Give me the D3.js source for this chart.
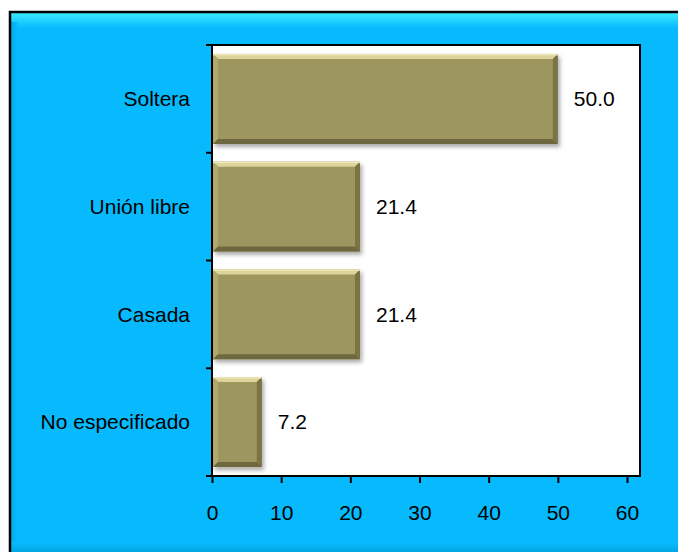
<!DOCTYPE html>
<html><head><meta charset="utf-8">
<script src="https://cdn.jsdelivr.net/npm/d3@7/dist/d3.min.js"></script>
<style>html,body{margin:0;padding:0;background:#fff;}svg{display:block;}</style>
</head><body>
<script>
const categories = ["Soltera", "Unión libre", "Casada", "No especificado"];
const values = [50.0, 21.4, 21.4, 7.2];
const labels = ["50.0", "21.4", "21.4", "7.2"];
const xTicks = [0, 10, 20, 30, 40, 50, 60];

const W = 678, H = 552;
const FS = 21;
const svg = d3.select("body").append("svg").attr("width", W).attr("height", H)
  .style("font-family", "'Liberation Sans', Arial, sans-serif");
const defs = svg.append("defs");

// outer frame gradients
const gTop = defs.append("linearGradient").attr("id","gTop").attr("x1",0).attr("y1",0).attr("x2",0).attr("y2",1);
gTop.append("stop").attr("offset","0%").attr("stop-color","#3EEEFF");
gTop.append("stop").attr("offset","100%").attr("stop-color","#06BAFD");
const gBot = defs.append("linearGradient").attr("id","gBot").attr("x1",0).attr("y1",0).attr("x2",0).attr("y2",1);
gBot.append("stop").attr("offset","0%").attr("stop-color","#06BAFD");
gBot.append("stop").attr("offset","100%").attr("stop-color","#02A6E2");
const gLeft = defs.append("linearGradient").attr("id","gLeft").attr("x1",0).attr("y1",0).attr("x2",1).attr("y2",0);
gLeft.append("stop").attr("offset","0%").attr("stop-color","#03A8E6");
gLeft.append("stop").attr("offset","100%").attr("stop-color","#06BAFD");

const shadow = defs.append("filter").attr("id","sh").attr("x","-10%").attr("y","-10%").attr("width","130%").attr("height","140%");
shadow.append("feDropShadow").attr("dx",2).attr("dy",3).attr("stdDeviation",2).attr("flood-color","#000").attr("flood-opacity",0.35);

// outer frame
const fx = 10, fy = 12;
svg.append("rect").attr("x", fx).attr("y", fy).attr("width", W - fx + 5).attr("height", H - fy + 5).attr("fill", "#06BAFD");
svg.append("rect").attr("x", fx).attr("y", fy).attr("width", W - fx + 5).attr("height", 16).attr("fill", "url(#gTop)");
svg.append("rect").attr("x", fx).attr("y", H - 9).attr("width", W - fx + 5).attr("height", 9).attr("fill", "url(#gBot)");
svg.append("rect").attr("x", fx).attr("y", fy + 10).attr("width", 7).attr("height", H - fy - 20).attr("fill", "url(#gLeft)");
svg.append("rect").attr("x", fx).attr("y", fy).attr("width", W - fx + 5).attr("height", H - fy + 5)
  .attr("fill", "none").attr("stroke", "#000").attr("stroke-width", 2.5);

// plot area
const pL = 212, pR = 640, pT = 45, pB = 476;
svg.append("rect").attr("x", pL).attr("y", pT).attr("width", pR - pL).attr("height", pB - pT)
  .attr("fill", "#fff").attr("stroke", "#000").attr("stroke-width", 2);

const x = d3.scaleLinear().domain([0, 60]).range([pL, 627]);
const y = d3.scaleBand().domain(categories).range([pT, pB]).paddingInner(0.165).paddingOuter(0.083);
const yb = d3.scaleBand().domain(categories).range([pT, pB]);

// bars with bevel
const bevel = 5;
const bars = svg.append("g").selectAll("g").data(categories).join("g");
bars.each(function(c, i) {
  const g = d3.select(this);
  const x0 = x(0) + 1, x1 = x(values[i]), y0 = y(c), y1 = y(c) + y.bandwidth();
  g.append("rect").attr("x", x0).attr("y", y0).attr("width", x1 - x0).attr("height", y1 - y0)
    .attr("fill", "#9E965E").attr("filter", "url(#sh)");
  const b = bevel;
  const poly = (pts, col) => g.append("polygon").attr("points", pts.map(p => p.join(",")).join(" ")).attr("fill", col);
  poly([[x0,y0],[x1,y0],[x1-b,y0+b],[x0+b,y0+b]], "#DCD49A");
  poly([[x0,y0],[x0+b,y0+b],[x0+b,y1-b],[x0,y1]], "#B0A86E");
  poly([[x1,y0],[x1,y1],[x1-b,y1-b],[x1-b,y0+b]], "#7A7344");
  poly([[x0,y1],[x1,y1],[x1-b,y1-b],[x0+b,y1-b]], "#6E683E");
  g.append("rect").attr("x", x0).attr("y", y0).attr("width", x1 - x0).attr("height", 1.5).attr("fill", "#EDE6B8");
});

// value labels
svg.append("g").selectAll("text").data(categories).join("text")
  .attr("x", (c, i) => x(values[i]) + 16)
  .attr("y", c => y(c) + y.bandwidth() / 2)
  .attr("dy", "0.35em").attr("font-size", FS).attr("fill", "#000")
  .text((c, i) => labels[i]);

// y axis
const yAxis = svg.append("g").attr("transform", `translate(${pL},0)`);
yAxis.selectAll("line.tk").data(d3.range(categories.length + 1)).join("line")
  .attr("x1", -6).attr("x2", 0)
  .attr("y1", i => pT + i * yb.step()).attr("y2", i => pT + i * yb.step())
  .attr("stroke", "#000").attr("stroke-width", 2);
yAxis.selectAll("text").data(categories).join("text")
  .attr("x", -22).attr("y", c => yb(c) + yb.bandwidth() / 2).attr("dy", "0.35em")
  .attr("text-anchor", "end").attr("font-size", FS).text(c => c);

// x axis
const xAxis = svg.append("g").attr("transform", `translate(0,${pB})`)
  .call(d3.axisBottom(x).tickValues(xTicks).tickSize(7).tickPadding(22).tickFormat(d3.format("d")));
xAxis.select(".domain").remove();
xAxis.selectAll("line").attr("stroke", "#000").attr("stroke-width", 2);
xAxis.selectAll("text").attr("font-size", FS).attr("fill", "#000").attr("font-family", "'Liberation Sans', Arial, sans-serif");
svg.append("line").attr("x1", pL - 6).attr("x2", pR).attr("y1", pB).attr("y2", pB).attr("stroke", "#000").attr("stroke-width", 2);
</script>
</body></html>
